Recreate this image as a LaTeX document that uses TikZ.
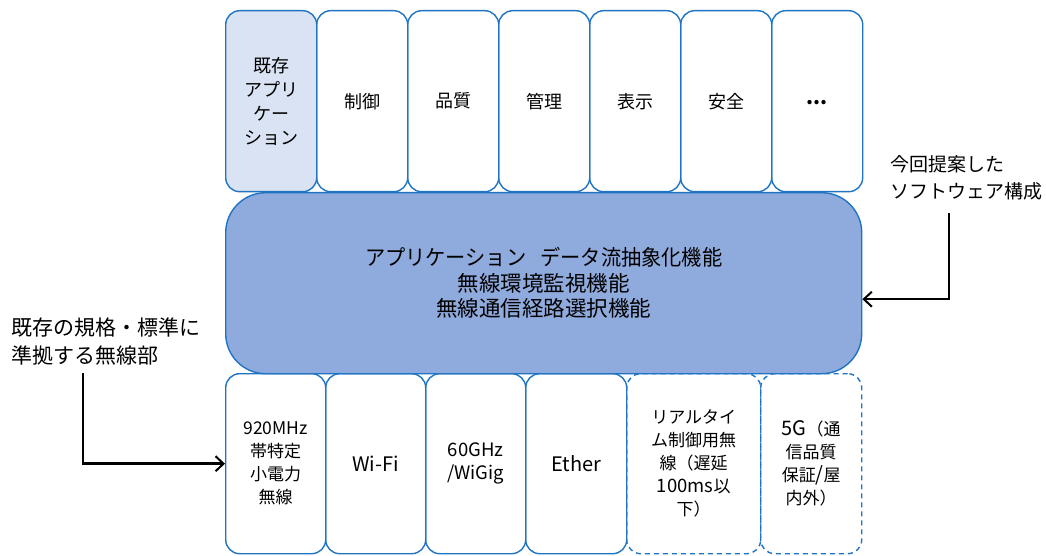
\documentclass[tikz,border=0pt]{standalone}
\usepackage{fontspec}
\setmainfont{Noto Sans CJK JP}
\usetikzlibrary{arrows.meta}
\definecolor{bordc}{HTML}{1F74C4}
\definecolor{midc}{HTML}{8FAADC}
\definecolor{lightc}{HTML}{DAE3F3}
\newcommand{\lt}[1]{{\fontsize{20}{23}\selectfont #1}}
\newcommand{\ls}[1]{{\fontsize{17.5}{23}\selectfont #1}}
\tikzset{
  box/.style={draw=bordc, line width=1.4pt, rounded corners=14pt, anchor=north west, inner sep=0pt, align=center},
  topbox/.style={box, minimum width=91pt, minimum height=181pt, font=\fontsize{18}{24}\selectfont},
  botbox/.style={box, minimum width=100pt, minimum height=180pt, font=\fontsize{17}{23}\selectfont},
  dbox/.style={botbox, dash pattern=on 5pt off 4pt},
  midbox/.style={box, fill=midc, rounded corners=40pt, minimum width=636pt, minimum height=181pt, font=\fontsize{21.5}{25.5}\selectfont},
  sidelbl/.style={align=left, inner sep=0pt},
  arr/.style={line width=2.5pt, -{Straight Barb[length=8pt,width=15pt,line width=2pt]}}
}
\begin{document}
\begin{tikzpicture}[x=1pt,y=1pt]
\path[use as bounding box, fill=white] (0,0) rectangle (1046,-556);
% top boxes
\node[topbox, fill=lightc] (t1) at (225,-10) {既存\\アプリ\\ケー\\ション};
\node[topbox] (t2) at (316,-10) {制御};
\node[topbox] (t3) at (407,-10) {品質};
\node[topbox] (t4) at (498,-10) {管理};
\node[topbox] (t5) at (589,-10) {表示};
\node[topbox] (t6) at (680,-10) {安全};
\node[topbox] (t7) at (771,-10) {\raisebox{-6pt}{\lt{\textbf{...}}}};
% middle
\node[midbox] (mid) at (225,-192) {\scalebox{0.94}[1]{アプリケーション\hspace{0.7em}データ流抽象化機能}\\無線環境監視機能\\無線通信経路選択機能};
% bottom boxes
\node[botbox] (b1) at (225,-373) {\ls{920MHz}\\帯特定\\小電力\\無線};
\node[botbox] (b2) at (325,-373) {\lt{Wi-Fi}};
\node[botbox] (b3) at (425,-373) {{\fontsize{18.5}{23}\selectfont 60GHz}\\{\fontsize{18.5}{23}\selectfont /WiGig}};
\node[botbox, minimum width=101pt] (b4) at (525,-373) {\lt{Ether}};
\node[dbox, minimum width=134pt] (b5) at (626,-373) {リアルタイ\\ム制御用無\\線（遅延\\{\fontsize{18.5}{23}\selectfont 100ms}以\\下）};
\node[dbox, minimum width=101pt] (b6) at (760,-373) {\lt{5G}（通\\信品質\\保証\lt{/}屋\\内外）};
% side labels
\node[sidelbl, anchor=west, font=\fontsize{21}{28}\selectfont] (ll) at (11,-341) {既存の規格・標準に\\準拠する無線部};
\node[sidelbl, anchor=west, font=\fontsize{19}{27}\selectfont] (rl) at (890,-178) {今回提案した\\ソフトウェア構成};
\coordinate (la) at (83,-373);
\coordinate (ra) at (949,-213);
\draw[arr] (la) |- (b1.west);
\draw[arr] (ra) |- ([yshift=-16pt]mid.east);
\end{tikzpicture}
\end{document}
